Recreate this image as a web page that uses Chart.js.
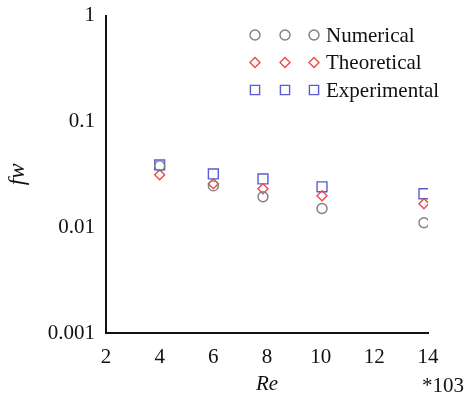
<!DOCTYPE html>
<html>
<head>
<meta charset="utf-8">
<script src="https://cdn.jsdelivr.net/npm/chart.js@4/dist/chart.umd.min.js"></script>
<style>
  html, body { margin: 0; padding: 0; background: #fff; }
  #wrap { width: 473px; height: 397px; position: relative; }
</style>
</head>
<body>
<div id="wrap"><canvas id="fwChart"></canvas></div>
<script>
// Re (x 10^3) ja kitkakerroin fw
const reValues = [4, 6, 7.85, 10.05, 13.85];
const numerical = [0.038, 0.0246, 0.0194, 0.0150, 0.0110];
const theoretical = [0.0313, 0.0257, 0.0231, 0.0198, 0.0167];
const experimental = [0.0388, 0.0319, 0.0286, 0.0241, 0.0207];
const yTicks = [0.001, 0.01, 0.1, 1];
const seriesNames = ['Numerical', 'Theoretical', 'Experimental'];

const serif = "'Liberation Serif', 'Times New Roman', serif";
const toPoints = arr => arr.map((v, i) => ({ x: reValues[i], y: v }));

// Legenda: kolme merkkiä per rivi, kuten alkuperäisessä
const tripleLegend = {
    id: 'tripleLegend',
    afterDraw(chart) {
        const ctx = chart.ctx;
        ctx.save();
        chart.data.datasets.forEach((ds, i) => {
            const y = 35 + i * 27.5;
            ctx.strokeStyle = ds.borderColor;
            ctx.fillStyle = 'rgba(0,0,0,0)';
            ctx.lineWidth = 1.4;
            [255, 285, 314].forEach(x => {
                Chart.helpers.drawPoint(ctx, {
                    pointStyle: ds.pointStyle,
                    radius: ds.legendRadius,
                    borderWidth: 1.4,
                    rotation: 0
                }, x, y);
            });
            ctx.fillStyle = '#111';
            ctx.font = '21px ' + serif;
            ctx.textBaseline = 'middle';
            ctx.textAlign = 'left';
            ctx.fillText(ds.label, 326, y + 1);
        });
        // kerroin x-akselin alla
        ctx.fillStyle = '#111';
        ctx.font = '21px ' + serif;
        ctx.textAlign = 'left';
        ctx.textBaseline = 'middle';
        ctx.fillText('*103', 422, 386);
        ctx.restore();
    }
};

const ctx = document.getElementById('fwChart').getContext('2d');

new Chart(ctx, {
    type: 'scatter',
    data: {
        datasets: [{
            label: seriesNames[0],
            data: toPoints(numerical),
            pointStyle: 'circle',
            pointRadius: 5,
            legendRadius: 5,
            borderColor: '#7f7f7f',
            backgroundColor: 'rgba(0,0,0,0)',
            pointBorderWidth: 1.4
        }, {
            label: seriesNames[1],
            data: toPoints(theoretical),
            pointStyle: 'rectRot',
            pointRadius: 5,
            legendRadius: 5,
            borderColor: '#f04848',
            backgroundColor: 'rgba(0,0,0,0)',
            pointBorderWidth: 1.4
        }, {
            label: seriesNames[2],
            data: toPoints(experimental),
            pointStyle: 'rect',
            pointRadius: 7,
            legendRadius: 6.5,
            borderColor: '#5a5ad2',
            backgroundColor: 'rgba(0,0,0,0)',
            pointBorderWidth: 1.4
        }]
    },
    options: {
        responsive: true,
        maintainAspectRatio: false,
        animation: false,
        layout: {
            padding: { top: 3, right: 45, left: 0, bottom: 0 }
        },
        scales: {
            x: {
                type: 'linear',
                min: 2,
                max: 14,
                grid: { display: false },
                border: { display: true, color: '#111', width: 2 },
                ticks: {
                    stepSize: 2,
                    color: '#111',
                    padding: 4,
                    font: { family: serif, size: 21 }
                },
                title: {
                    display: true,
                    text: 'Re',
                    color: '#111',
                    padding: { top: 0, bottom: 0 },
                    font: { family: serif, size: 21, style: 'italic' }
                },
                afterFit(scale) { scale.height = 64; }
            },
            y: {
                type: 'logarithmic',
                min: 0.001,
                max: 1,
                grid: { display: false },
                border: { display: true, color: '#111', width: 2 },
                afterBuildTicks(scale) {
                    scale.ticks = yTicks.map(v => ({ value: v }));
                },
                ticks: {
                    color: '#111',
                    padding: 3,
                    font: { family: serif, size: 21 },
                    callback: v => String(v)
                },
                title: {
                    display: true,
                    text: 'fw',
                    color: '#111',
                    padding: { top: 4, bottom: 0 },
                    font: { family: serif, size: 23, style: 'italic' }
                },
                afterFit(scale) { scale.width = 106; }
            }
        },
        plugins: {
            legend: { display: false },
            tooltip: { enabled: false }
        }
    },
    plugins: [tripleLegend]
});
</script>
</body>
</html>
